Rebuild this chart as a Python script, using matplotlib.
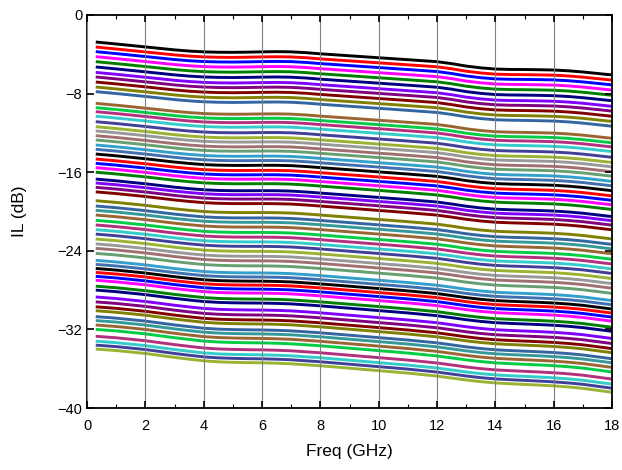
import matplotlib
matplotlib.use("Agg")
import matplotlib.pyplot as plt
from matplotlib.ticker import MultipleLocator
import numpy as np

plt.rcParams['font.family'] = ['Liberation Sans', 'DejaVu Sans']

# ==== DATA ====
freq = [0.3, 1, 1.5, 2, 2.5, 3, 3.5, 4, 4.5, 5, 5.5, 6, 6.5, 7, 7.5, 8, 9, 10,
        11, 12, 12.5, 13, 13.5, 14, 14.5, 15, 15.5, 16, 16.5, 17, 17.5, 18]

# drop (dB) relative to the start value
shape_top = [0, -0.2, -0.35, -0.5, -0.65, -0.8, -0.92, -1.0, -1.04, -1.05, -1.03,
             -1.0, -0.98, -1.0, -1.08, -1.2, -1.4, -1.6, -1.8, -2.0, -2.2, -2.45,
             -2.63, -2.75, -2.79, -2.8, -2.82, -2.85, -2.93, -3.05, -3.2, -3.35]
shape_bot = [0, -0.15, -0.3, -0.45, -0.65, -0.85, -1.03, -1.2, -1.3, -1.35, -1.38,
             -1.4, -1.44, -1.5, -1.6, -1.7, -1.95, -2.2, -2.45, -2.75, -2.95, -3.15,
             -3.32, -3.45, -3.53, -3.6, -3.67, -3.75, -3.86, -4.0, -4.2, -4.4]

colors = ["#000000", "#FF0000", "#0000FF", "#FF00FF", "#008000", "#000080",
          "#8000FF", "#800080", "#800000", "#808000", "#3366A0", "#339999",
          "#996633", "#00CC44", "#B3307F", "#33CCCC", "#404099", "#99B333",
          "#999999", "#A07070", "#66A070", "#33A0CC", "#4070B0"]

# start level (dB) at 0.3 GHz of each trace, None = trace not shown
levels = [-2.75, -3.26, -3.73, -4.24, -4.75, -5.29, -5.84, -6.31, -6.82, -7.33, -7.8, None,
          -8.99, -9.43, -9.84, -10.3, -10.86, -11.37, -11.8, -12.28, -12.72, -13.23, -13.67,
          -14.15, -14.66, -15.1, -15.54, -16.0, -16.7, -17.1, -17.54, -18.0, -18.9, -19.44,
          -19.88, -20.36, -20.9, -21.37, -21.85, -22.3, -22.8, -23.3, -23.75, -24.26,
          -24.97, -25.38,
          -25.8, -26.2, -26.6, -27.0, -27.6, -28.0, -28.7, -29.2, -29.7, -30.1, -30.7,
          -31.1, -31.55, -32.0, -32.7, -33.2, -33.6, -34.0]

# ==== PLOT ====
fig = plt.figure(figsize=(6.22, 4.70), dpi=100)
ax = fig.add_axes([87 / 622, 1 - 408 / 470, 525 / 622, 393 / 470])

f = np.array(freq)
st = np.array(shape_top)
sb = np.array(shape_bot)
top, bot = levels[0], levels[-1]
for i, lv in enumerate(levels):
    if lv is None:
        continue
    w = (lv - top) / (bot - top)
    y = lv + (1 - w) * st + w * sb
    ax.plot(f, y, color=colors[i % len(colors)], lw=2.1, solid_capstyle='butt')

ax.set_xlim(0, 18)
ax.set_ylim(-40, 0)
ax.xaxis.set_major_locator(MultipleLocator(2))
ax.xaxis.set_minor_locator(MultipleLocator(1))
ax.yaxis.set_major_locator(MultipleLocator(8))
ax.set_axisbelow(False)
ax.grid(True, axis='x', which='major', color='#808080', lw=0.8)
ax.tick_params(which='both', direction='in', top=True, right=True, labelsize=10.5)
ax.tick_params(which='major', length=5, width=1.2)
ax.tick_params(which='minor', length=3, width=0.8)
ax.tick_params(axis='x', pad=8)
for s in ax.spines.values():
    s.set_linewidth(1.3)

ax.set_xlabel("Freq (GHz)", fontsize=12.5, labelpad=8)
ax.set_ylabel("IL (dB)", fontsize=12.5, labelpad=22)

fig.savefig("out.png", dpi=100)
